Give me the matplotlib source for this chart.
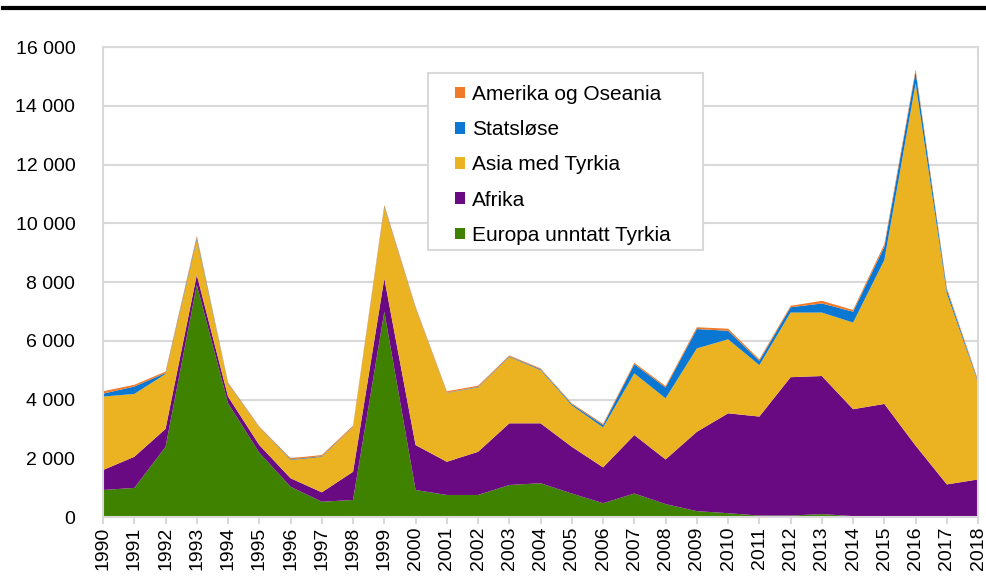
import numpy as np
import matplotlib.pyplot as plt
from matplotlib.patches import Rectangle
from matplotlib.ticker import FuncFormatter

plt.rcParams['font.family'] = ['Liberation Sans', 'DejaVu Sans']

years = list(range(1990, 2019))

europa = [920, 990, 2390, 7900, 3870, 2190, 1030, 520, 580, 6990,
          920, 750, 750, 1090, 1150, 800, 470, 800, 440, 200,
          130, 50, 50, 100, 30, 20, 10, 10, 10]
afrika = [680, 1060, 610, 340, 230, 260, 290, 320, 960, 1130,
          1530, 1130, 1470, 2100, 2040, 1590, 1220, 1990, 1520, 2700,
          3400, 3370, 4710, 4700, 3640, 3830, 2420, 1100, 1270]
asia = [2500, 2140, 1870, 1190, 430, 590, 620, 1210, 1520, 2400,
        4650, 2350, 2190, 2260, 1810, 1410, 1360, 2100, 2080, 2840,
        2520, 1750, 2200, 2160, 2950, 4900, 12330, 6500, 3280]
statslose = [100, 250, 30, 70, 20, 10, 20, 20, 10, 30,
             20, 10, 20, 20, 30, 40, 80, 310, 370, 660,
             290, 150, 180, 310, 370, 450, 400, 120, 40]
amerika = [80, 60, 50, 70, 30, 30, 40, 40, 40, 70,
           40, 40, 40, 30, 30, 30, 40, 50, 50, 60,
           70, 50, 50, 90, 60, 90, 80, 60, 60]

labels = ['Europa unntatt Tyrkia', 'Afrika', 'Asia med Tyrkia', 'Statsløse', 'Amerika og Oseania']
colors = ['#3F8200', '#6A0A82', '#EBB322', '#0A78D2', '#F07A2A']

fig = plt.figure(figsize=(9.87, 5.84), dpi=100)
ax = fig.add_axes([0.1044, 0.1147, 0.8866, 0.8048])

ax.stackplot(years, europa, afrika, asia, statslose, amerika,
             colors=colors, labels=labels, linewidth=0)

ax.set_xlim(1990, 2018)
ax.set_ylim(0, 16000)
ax.set_yticks(np.arange(0, 16001, 2000))
ax.yaxis.set_major_formatter(FuncFormatter(lambda v, p: '{:,.0f}'.format(v).replace(',', ' ')))
ax.set_xticks(years)
ax.set_xticklabels([str(y) for y in years], rotation=90)

ax.grid(axis='y', color='#D9D9D9', linewidth=1.5)
ax.set_axisbelow(True)
for s in ax.spines.values():
    s.set_color('#D9D9D9')
    s.set_linewidth(1.5)
ax.tick_params(axis='y', length=0, pad=20, labelsize=14)
ax.tick_params(axis='x', length=5, color='#D9D9D9', width=1.5, pad=2, labelsize=14)

# legend frame drawn separately (wide left padding as in the original)
ax.add_patch(Rectangle((0.3714, 0.568), 0.3143, 0.3767, transform=ax.transAxes,
                       facecolor='white', edgecolor='#D9D9D9', linewidth=1.5, zorder=4))
h, l = ax.get_legend_handles_labels()
leg = ax.legend(h[::-1], l[::-1], loc='upper left', bbox_to_anchor=(0.402, 0.9195),
                fontsize=15, frameon=False,
                handlelength=0.5, handleheight=0.5, handletextpad=0.33,
                labelspacing=0.78, borderpad=0, borderaxespad=0)
leg.set_zorder(5)

# black rule at the top of the figure
fig.add_artist(plt.Line2D([0.003, 1.0], [1 - 8 / 584, 1 - 8 / 584], color='black', linewidth=3))

fig.savefig('out.png', dpi=100)
